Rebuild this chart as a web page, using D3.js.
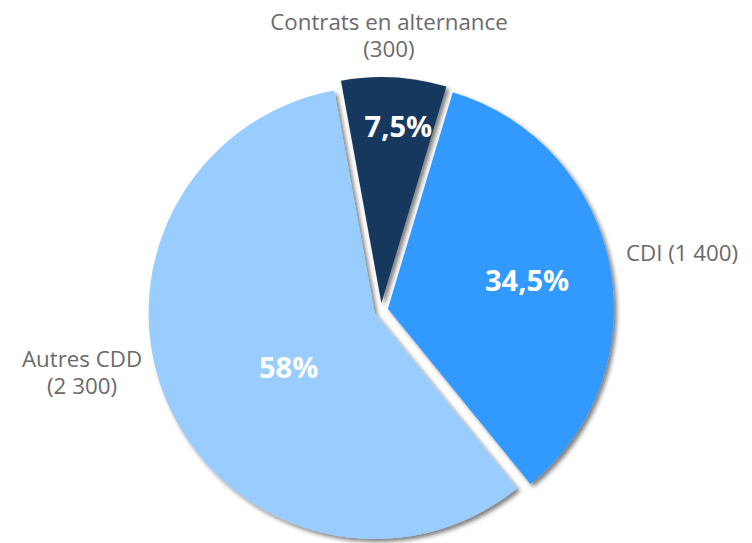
<!DOCTYPE html>
<html>
<head>
<meta charset="utf-8">
<script src="https://cdn.jsdelivr.net/npm/d3@7"></script>
<style>
  html, body { margin: 0; padding: 0; background: #fff; }
  svg { display: block; }
</style>
</head>
<body>
<svg id="chart" width="752" height="543"></svg>
<script>
// ---- data ----
const categories = ["Contrats en alternance", "CDI", "Autres CDD"];
const counts = [300, 1400, 2300];
const shares = [7.5, 34.5, 58];
const colors = ["#17375E", "#3399FF", "#99CCFF"];

// ---- layout ----
const W = 752, H = 543;
const cx = 381, cy = 310, R = 226, explode = 7;
const startDeg = -10.3;
// percent label placement: [angle (deg, clockwise from top), distance from slice tip]
const pctLabelPolar = [[5.5, 177], [78.6, 142], [237.5, 102]];
// category label placement: [x, baseline y of first line, anchor]
const catLabelPos = [[389, 30, "middle"], [626, 261, "start"], [82, 367, "middle"]];
const catLines = [["Contrats en alternance", "(" ], ["CDI ("], ["Autres CDD", "("]];

const fr = d3.formatLocale({decimal: ",", thousands: " ", grouping: [3], currency: ["", " €"]});
const fmtCount = fr.format(",");
const fmtPct = fr.format("~g");

const svg = d3.select("#chart");
const defs = svg.append("defs");
const f = defs.append("filter").attr("id", "shadow")
  .attr("x", "-20%").attr("y", "-20%").attr("width", "140%").attr("height", "140%");
f.append("feDropShadow").attr("dx", 3).attr("dy", 3).attr("stdDeviation", 2.2)
  .attr("flood-color", "#000").attr("flood-opacity", 0.5);

const data = categories.map((c, i) => ({cat: c, count: counts[i], share: shares[i], color: colors[i]}));
const a0 = startDeg * Math.PI / 180;
const pie = d3.pie().sort(null).value(d => d.share).startAngle(a0).endAngle(a0 + 2 * Math.PI);
const arcs = pie(data);
const arc = d3.arc().innerRadius(0).outerRadius(R);

const g = svg.append("g").attr("transform", `translate(${cx},${cy})`);

arcs.forEach((a, i) => {
  const mid = (a.startAngle + a.endAngle) / 2;
  const ox = explode * Math.sin(mid), oy = -explode * Math.cos(mid);
  const sg = g.append("g").attr("transform", `translate(${ox},${oy})`);
  sg.append("path").attr("d", arc(a)).attr("fill", a.data.color).attr("filter", "url(#shadow)");
});

// percent labels
arcs.forEach((a, i) => {
  const mid = (a.startAngle + a.endAngle) / 2;
  const ox = explode * Math.sin(mid), oy = -explode * Math.cos(mid);
  const [deg, dist] = pctLabelPolar[i];
  const t = deg * Math.PI / 180;
  g.append("text")
    .attr("x", ox + dist * Math.sin(t))
    .attr("y", oy - dist * Math.cos(t))
    .attr("dy", "0.36em")
    .attr("text-anchor", "middle")
    .attr("font-family", "'Open Sans', sans-serif")
    .attr("font-weight", 700)
    .attr("font-size", 29)
    .attr("fill", "#fff")
    .text(fmtPct(a.data.share) + "%");
});

// category labels
data.forEach((d, i) => {
  const [x, y, anchor] = catLabelPos[i];
  const t = svg.append("text")
    .attr("x", x).attr("y", y)
    .attr("text-anchor", anchor)
    .attr("font-family", "'Open Sans', sans-serif")
    .attr("font-size", 22.3)
    .attr("fill", "#6a6a6a");
  if (i === 1) {
    t.text(d.cat + " (" + fmtCount(d.count) + ")");
  } else {
    t.append("tspan").attr("x", x).text(d.cat);
    t.append("tspan").attr("x", x).attr("dy", 27).text("(" + fmtCount(d.count) + ")");
  }
});
</script>
</body>
</html>
